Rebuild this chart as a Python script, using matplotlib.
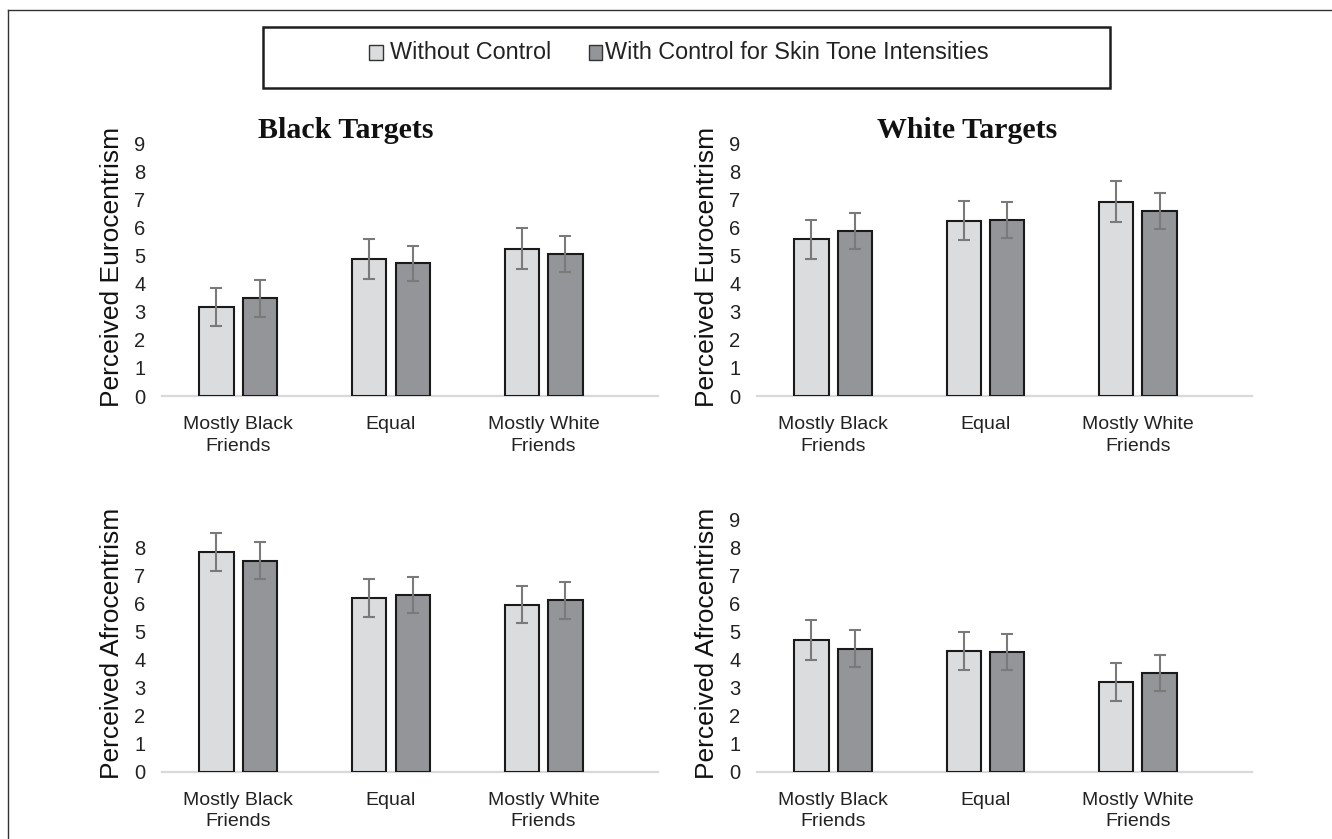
import matplotlib
matplotlib.use("Agg")
import matplotlib.pyplot as plt
from matplotlib.patches import Rectangle
from matplotlib.lines import Line2D
import numpy as np

plt.rcParams['font.family'] = ['Liberation Sans', 'DejaVu Sans']

# ---- data -------------------------------------------------------------
categories = ["Mostly Black\nFriends", "Equal", "Mostly White\nFriends"]
series_names = ["Without Control", "With Control for Skin Tone Intensities"]

black_euro_without = [3.17, 4.87, 5.25]
black_euro_without_err = [0.68, 0.72, 0.73]
black_euro_with = [3.48, 4.73, 5.07]
black_euro_with_err = [0.65, 0.63, 0.64]

white_euro_without = [5.58, 6.25, 6.92]
white_euro_without_err = [0.69, 0.70, 0.72]
white_euro_with = [5.88, 6.27, 6.59]
white_euro_with_err = [0.64, 0.63, 0.63]

black_afro_without = [7.84, 6.19, 5.95]
black_afro_without_err = [0.68, 0.68, 0.66]
black_afro_with = [7.53, 6.31, 6.11]
black_afro_with_err = [0.66, 0.65, 0.65]

white_afro_without = [4.70, 4.29, 3.20]
white_afro_without_err = [0.70, 0.68, 0.68]
white_afro_with = [4.39, 4.27, 3.53]
white_afro_with_err = [0.67, 0.64, 0.64]

# ---- styling ----------------------------------------------------------
W, H = 1332, 839
LIGHT = '#dbdcde'
DARK = '#939598'
EDGE = '#1a1a1a'
ERR = '#7a7a7a'
TEXT = '#222222'


def px_rect(x0, x1, ytop, ybot):
    return [x0 / W, 1 - ybot / H, (x1 - x0) / W, (ybot - ytop) / H]


def fx(x):
    return x / W


def fy(y):
    return 1 - y / H


fig = plt.figure(figsize=(W / 100, H / 100), dpi=100)
fig.patch.set_facecolor('white')


def draw_panel(rect, without, without_err, with_, with_err, ylabel, yticks):
    ax = fig.add_axes(rect)
    x = np.arange(len(categories))
    width = 0.225
    off = 0.143
    ax.bar(x - off, without, width, color=LIGHT, edgecolor=EDGE, linewidth=1.5, zorder=3)
    ax.bar(x + off, with_, width, color=DARK, edgecolor=EDGE, linewidth=1.5, zorder=3)
    ax.errorbar(x - off, without, yerr=without_err, fmt='none', ecolor=ERR,
                elinewidth=1.5, capsize=4.3, capthick=1.5, zorder=4)
    ax.errorbar(x + off, with_, yerr=with_err, fmt='none', ecolor=ERR,
                elinewidth=1.5, capsize=4.3, capthick=1.5, zorder=4)
    ax.set_xlim(-0.5, 2.75)
    ax.set_ylim(0, 9)
    ax.set_yticks(yticks)
    ax.set_xticks(x)
    ax.set_xticklabels(categories, fontsize=14, color=TEXT, linespacing=1.35)
    ax.tick_params(axis='y', length=0, pad=12, labelsize=14.5, labelcolor=TEXT)
    ax.tick_params(axis='x', length=0, pad=14.5)
    for s in ('top', 'right', 'left'):
        ax.spines[s].set_visible(False)
    ax.spines['bottom'].set_color('#d9d9d9')
    ax.spines['bottom'].set_linewidth(1.6)
    ax.spines['bottom'].set_zorder(1)
    ax.set_ylabel(ylabel, fontsize=19, color='#111111', va='center')
    ax.yaxis.set_label_coords(-0.101, 0.51)
    return ax


ticks9 = list(range(0, 10))
ticks8 = list(range(0, 9))

draw_panel(px_rect(162, 658, 143.3, 396), black_euro_without, black_euro_without_err,
           black_euro_with, black_euro_with_err, "Perceived Eurocentrism", ticks9)
draw_panel(px_rect(757, 1252, 143.3, 396), white_euro_without, white_euro_without_err,
           white_euro_with, white_euro_with_err, "Perceived Eurocentrism", ticks9)
draw_panel(px_rect(162, 658, 519.3, 771.7), black_afro_without, black_afro_without_err,
           black_afro_with, black_afro_with_err, "Perceived Afrocentrism", ticks8)
draw_panel(px_rect(757, 1252, 519.3, 771.7), white_afro_without, white_afro_without_err,
           white_afro_with, white_afro_with_err, "Perceived Afrocentrism", ticks9)

# panel titles
title_font = dict(family=['Liberation Serif', 'DejaVu Serif'], weight='bold',
                  fontsize=21.5, color='#111111', ha='center', va='baseline')
fig.text(fx(346), fy(138.3), "Black Targets", **title_font)
fig.text(fx(967.5), fy(138.3), "White Targets", **title_font)

# legend box
fig.add_artist(Rectangle((fx(263.3), fy(88.3)), fx(1110) - fx(263.3), fy(26.7) - fy(88.3),
                         transform=fig.transFigure, facecolor='white',
                         edgecolor='#1e1e1e', linewidth=1.8))
for (x0, x1), color, label, tx in [((369.3, 382.7), LIGHT, series_names[0], 390),
                                     ((588.5, 602.0), DARK, series_names[1], 605)]:
    fig.add_artist(Rectangle((fx(x0), fy(60)), fx(x1) - fx(x0), fy(45) - fy(60),
                             transform=fig.transFigure, facecolor=color,
                             edgecolor='#333333', linewidth=1.0))
    fig.text(fx(tx), fy(52.5), label, fontsize=16.8, color=TEXT, ha='left', va='center')

# outer frame (left and top edges)
fig.add_artist(Line2D([fx(8), fx(8)], [0, fy(10)], transform=fig.transFigure,
                      color='#333333', linewidth=1.0))
fig.add_artist(Line2D([fx(8), 1], [fy(10), fy(10)], transform=fig.transFigure,
                      color='#333333', linewidth=1.0))

fig.savefig("out.png", dpi=100, facecolor='white')
